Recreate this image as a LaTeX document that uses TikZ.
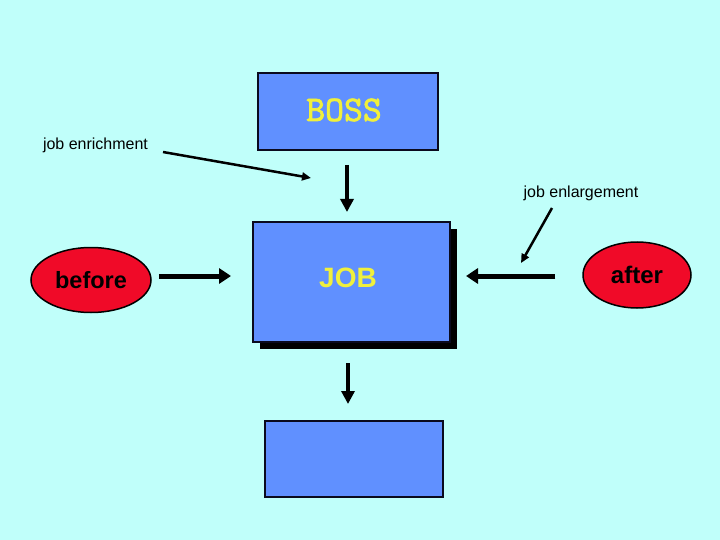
\documentclass[tikz,border=0pt]{standalone}
\usepackage{fontspec}
\setmainfont{Liberation Sans}
\newfontfamily\bossfnt{lmmono10-regular.otf}[FakeBold=2]
\usetikzlibrary{arrows.meta,shapes.geometric,shadows}
\definecolor{bgcyan}{RGB}{192,255,250}
\definecolor{boxblue}{RGB}{96,144,255}
\definecolor{txtyellow}{RGB}{240,240,60}
\definecolor{ellred}{RGB}{240,10,40}
\definecolor{edgenavy}{RGB}{10,10,30}
\tikzset{
  bluebox/.style={draw=edgenavy, line width=2pt, fill=boxblue, inner sep=0pt},
  oval/.style={ellipse, draw=black, line width=1.5pt, fill=ellred, inner sep=0pt},
  thinarrow/.style={line width=2.5pt, -{Triangle[length=9pt,width=8pt]}},
  vertarrow/.style={line width=3.5pt, -{Triangle[length=13pt,width=13pt]}},
  horizarrow/.style={line width=5pt, -{Triangle[length=12pt,width=15pt]}},
  labeltext/.style={font=\fontsize{16}{19}\selectfont, inner sep=0pt}
}
\begin{document}
\begin{tikzpicture}[x=1pt,y=-1pt]
\fill[bgcyan] (0,0) rectangle (720,540);
\useasboundingbox (0,0) rectangle (720,540);
\node[bluebox, minimum width=180pt, minimum height=77pt] (boss) at (348,111.5) {};
\node[font=\bossfnt\fontsize{36}{40}\selectfont, text=txtyellow] (bosst) at (344,110) {BOSS};
\node[bluebox, minimum width=197pt, minimum height=120pt,
      drop shadow={shadow xshift=7pt, shadow yshift=-7pt, opacity=1, fill=black}] (job) at (351.5,282) {};
\node[font=\bfseries\fontsize{28}{32}\selectfont, text=txtyellow] (jobt) at (348,278) {JOB};
\node[bluebox, minimum width=178pt, minimum height=76pt] (result) at (354,459) {};
\node[oval, minimum width=120pt, minimum height=65pt, font=\bfseries\fontsize{23.5}{27}\selectfont] (before) at (91,280) {before};
\node[oval, minimum width=108pt, minimum height=66pt, font=\bfseries\fontsize{24}{28}\selectfont] (after) at (637,275) {after};
\node[labeltext] (enrich) at (95.5,145) {job enrichment};
\node[labeltext] (enlarge) at (581,193) {job enlargement};
\coordinate (enrs) at (163,152);
\coordinate (enre) at (311,178);
\coordinate (enls) at (552,208);
\coordinate (enle) at (521,263);
\draw[thinarrow] (enrs) -- (enre);
\draw[thinarrow] (enls) -- (enle);
\draw[vertarrow, shorten <=14pt, shorten >=9pt] (boss.south -| 347,0) -- (job.north -| 347,0);
\draw[vertarrow, shorten <=20pt, shorten >=16pt] (job.south -| 348,0) -- (result.north -| 348,0);
\draw[horizarrow, shorten <=7pt, shorten >=21pt] (before.east |- 0,276) -- (job.west |- 0,276);
\draw[horizarrow, shorten <=27pt, shorten >=15pt] (after.west |- 0,276) -- (job.east |- 0,276);
\end{tikzpicture}
\end{document}
